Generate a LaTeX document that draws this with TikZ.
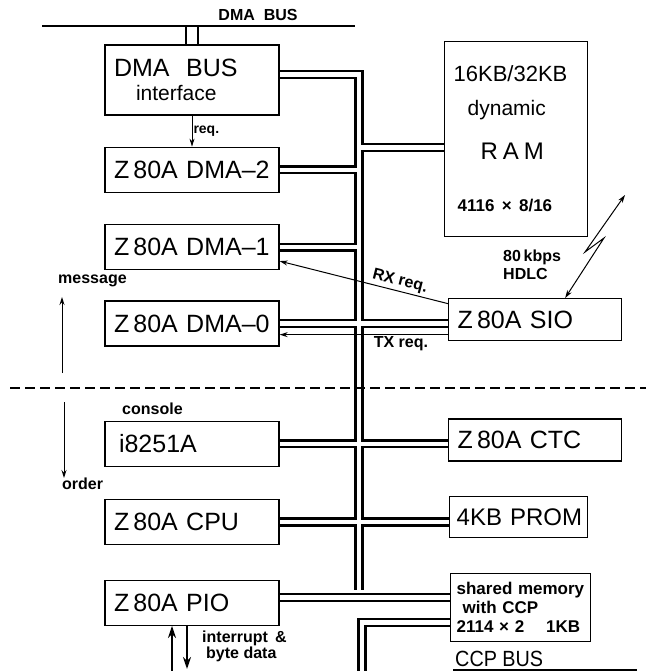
\documentclass[tikz,border=0pt]{standalone}
\usepackage{fontspec}
\setmainfont{Liberation Sans}
\usepackage{graphicx}
\usetikzlibrary{arrows.meta, positioning}

\pgfdeclarelayer{background}
\pgfsetlayers{background,main}

\newcommand{\narrow}[2][0.9]{\scalebox{#1}[1]{#2}}

\begin{document}
\begin{tikzpicture}[
    x=1pt, y=-1pt,
    node distance=31pt,
    unit/.style={
        rectangle,
        draw=black,
        line width=1.3pt,
        align=left,
        text width=#1,
        inner xsep=9pt,
        minimum height=45pt,
        font=\fontsize{25}{28}\selectfont
    },
    unit/.default=156pt,
    tag/.style={font=\bfseries\fontsize{16}{18}\selectfont, inner sep=1pt},
    bus/.style={draw=black, line width=2.4pt, double=white, double distance=4.4pt},
    sig/.style={-{Stealth[length=8pt, width=5pt]}, line width=1pt},
    port/.style={-{Stealth[length=12pt, width=8pt]}, line width=2.4pt}
]
\useasboundingbox (0,0) rectangle (646,671);

% left column
\node[unit, minimum height=70pt] (ifc) at (192,80)
    {DMA~~BUS\\[-4pt]\hspace*{22pt}{\fontsize{21}{24}\selectfont interface}};
\node[unit, below=31pt of ifc] (dma2) {Z\,80A~DMA--2};
\node[unit, below=31pt of dma2] (dma1) {Z\,80A~DMA--1};
\node[unit, below=30pt of dma1] (dma0) {Z\,80A~DMA--0};
\node[unit, below=74pt of dma0] (usart) {\hspace*{5pt}i8251A};
\node[unit, below=32pt of usart] (cpu) {Z\,80A~CPU};
\node[unit, below=34.5pt of cpu] (pio) {Z\,80A~PIO};

% right column
\node[unit=125pt, minimum height=195pt, anchor=north west,
      font=\fontsize{22}{34}\selectfont] (ram) at (444,41)
    {16KB/32KB\\
     \hspace*{14pt}{\fontsize{21}{34}\selectfont dynamic}\\[10pt]
     \hspace*{27pt}{\fontsize{24}{34}\selectfont R\kern5pt A\kern5pt M}\\[18pt]
     \hspace*{4pt}{\bfseries\fontsize{17}{34}\selectfont 4116~×~8/16}};
\node[unit=155pt, minimum height=42pt, anchor=north west] (sio) at (448,298) {Z\,80A~SIO};
\node[unit=155pt, minimum height=42pt, below right=77pt and 0pt of sio.south west] (ctc) {Z\,80A~CTC};
\node[unit=124pt, inner xsep=7pt, minimum height=41pt, below right=34pt and 1pt of ctc.south west,
      font=\fontsize{24}{28}\selectfont] (prom) {4KB~PROM};
\node[unit=128pt, inner xsep=6pt, minimum height=68pt, below right=35pt and 1pt of prom.south west,
      font=\bfseries\fontsize{17}{19}\selectfont] (shm)
    {shared~memory\\\hspace*{6pt}with~CCP\\2114~×~2\hspace{22pt}1KB};

% buses
\coordinate (dmaw) at (42,26);
\coordinate (dmae) at (355,26);
\coordinate (bustop) at (359,74.5);
\coordinate (busend) at (359,590);
\coordinate (ifcport) at ([yshift=5.5pt]ifc.east);
\coordinate (ramport) at ([yshift=-8.5pt]ram.west);
\coordinate (pioport) at ([yshift=5.5pt]pio.east);
\coordinate (ccpport) at ([yshift=-15pt]shm.west);
\coordinate (ccpend) at (362,671);
\coordinate (ccpw) at (453,670);
\coordinate (ccpe) at (637,670);

\begin{pgfonlayer}{background}
\draw[line width=2pt, double=white, double distance=10pt] (ifc.north) -- (ifc.north |- dmaw);
\draw[bus] (ifcport) -- (bustop) -- (busend)
    (ramport) -- (ramport -| bustop)
    (dma2.east) -- (dma2.east -| bustop)
    (dma1.east) -- (dma1.east -| bustop)
    (dma0.east) -- (dma0.east -| sio.west)
    (usart.east) -- (usart.east -| ctc.west)
    (cpu.east) -- (cpu.east -| prom.west)
    (pioport) -- (pioport -| shm.west);
\draw[bus] (ccpport) -| (ccpend);
\end{pgfonlayer}

\draw[line width=2.2pt] (dmaw) -- (dmae);
\node[tag, anchor=base] (dmalbl) at (258,21) {DMA~~BUS};
\draw[line width=1.6pt] (ccpw) -- (ccpe);
\node[anchor=base west, inner sep=0pt, font=\fontsize{22}{24}\selectfont] (ccplbl) at (455,666) {\narrow{CCP BUS}};

% signals
\draw[sig] (ifc) -- (dma2) node[midway, right, tag, font=\bfseries\fontsize{14}{16}\selectfont] {req.};

\coordinate (rxout) at ([yshift=16pt]sio.west);
\coordinate (rxin) at ([yshift=-14pt]dma1.east);
\draw[sig] (rxout) -- (rxin) node[pos=0.3, sloped, above=1pt, tag] {RX req.};

\coordinate (txout) at ([yshift=-15pt]sio.west);
\draw[sig] (txout) -- (txout -| dma0.east) node[pos=0.28, below, tag] {TX req.};

% serial link
\coordinate (link) at (625,195);
\coordinate (sioant) at ([xshift=30pt]sio.north);
\draw[{Stealth[length=8pt, width=5pt]}-{Stealth[length=8pt, width=5pt]}, line width=1pt]
    (link) -- (585,252) -- (604,238) -- (sioant);
\node[tag, anchor=north west, align=left] (rate) at (502,249) {80\,kbps\\HDLC};

% message / order
\coordinate (msgtail) at (62,373);
\coordinate (msghead) at (62,297);
\coordinate (ordtail) at (64,402);
\coordinate (ordhead) at (64,478);
\draw[sig] (msgtail) -- (msghead);
\draw[sig] (ordtail) -- (ordhead);
\node[tag, anchor=base west] (msglbl) at (57,283) {message};
\node[tag, anchor=base west] (ordlbl) at (61,489) {order};
\node[tag, anchor=base west] (conlbl) at (121,414.5) {console};

\draw[line width=1.5pt, dash pattern=on 10pt off 5pt] (10,388) -- (646,388);

% PIO lines
\coordinate (pioin) at (172,671);
\coordinate (pioout) at (187,669);
\draw[port] (pioin) -- (pioin |- pio.south);
\draw[port] (pioout |- pio.south) -- (pioout);
\node[tag, anchor=north west, align=left, font=\bfseries\fontsize{16}{16}\selectfont] (piolbl) at (201,630)
    {interrupt~\,\&\\\hspace*{4pt}byte data};

\end{tikzpicture}
\end{document}
